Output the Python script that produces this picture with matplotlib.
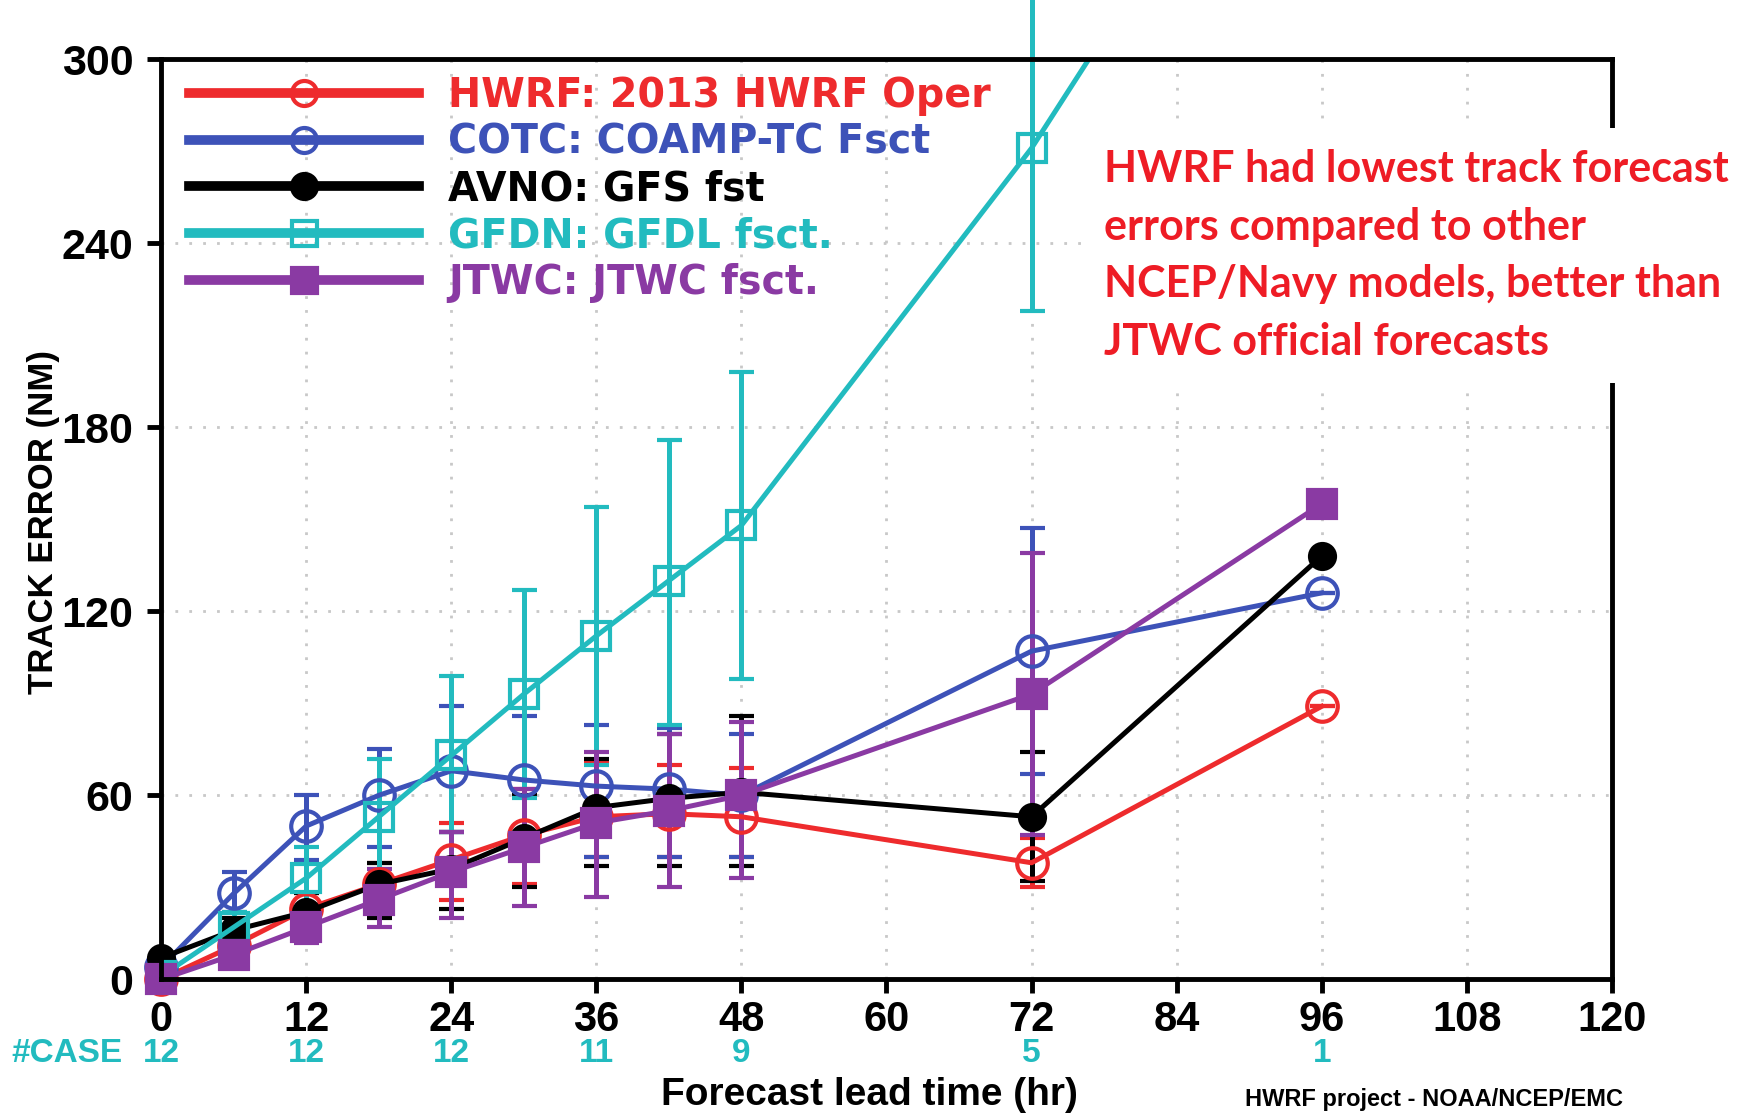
import matplotlib
matplotlib.use('Agg')
import matplotlib.pyplot as plt
import matplotlib.transforms as mtransforms
from matplotlib.lines import Line2D
from matplotlib.patches import Rectangle
import numpy as np

#---------------------------- DATA (NM) ----------------------------
horas = [0, 6, 12, 18, 24, 30, 36, 42, 48, 72, 96]

hwrf    = [0, 11, 23, 31, 39, 47, 53, 54, 53, 38, 89]
hwrf_lo = [0,  8, 18, 24, 26, 31, 40, 40, 40, 30, 89]
hwrf_hi = [0, 14, 28, 38, 51, 62, 71, 70, 69, 46, 89]

cotc    = [4, 28, 50, 60, 68, 65, 63, 62, 60, 107, 126]
cotc_lo = [4, 22, 39, 43, 48, 45, 40, 40, 40, 67, 126]
cotc_hi = [4, 35, 60, 75, 89, 86, 83, 82, 80, 147, 126]

avno    = [7, 16, 22, 31, 36, 46, 56, 59, 61, 53, 138]
avno_lo = [7, 12, 17, 20, 23, 30, 37, 37, 37, 32, 138]
avno_hi = [7, 20, 28, 38, 48, 60, 72, 80, 86, 74, 138]

gfdn    = [1, 17, 33, 53, 73, 93, 112, 130, 148, 271, 418]
gfdn_lo = [1, 12, 23, 36, 48, 59, 70, 83, 98, 218, np.nan]
gfdn_hi = [1, 22, 43, 72, 99, 127, 154, 176, 198, 325, np.nan]

jtwc    = [0, 8, 17, 26, 35, 43, 51, 55, 60, 93, 155]
jtwc_lo = [0, 5, 12, 17, 20, 24, 27, 30, 33, 47, 155]
jtwc_hi = [0, 12, 22, 36, 48, 62, 74, 80, 84, 139, 155]

nomes = ['HWRF: 2013 HWRF Oper', 'COTC: COAMP-TC Fsct', 'AVNO: GFS fst',
         'GFDN: GFDL fsct.', 'JTWC: JTWC fsct.']

case_horas = [0, 12, 24, 36, 48, 72, 96]
case_n = ['12', '12', '12', '11', '9', '5', '1']

nota = ['HWRF had lowest track forecast',
        'errors compared to other',
        'NCEP/Navy models, better than',
        'JTWC official forecasts']

#---------------------------- STYLE ----------------------------
vermelho = '#ee2b2d'
azul = '#3d52b8'
preto = '#000000'
ciano = '#22bbbf'
roxo = '#8a3aa3'

fonte = ['Liberation Sans', 'DejaVu Sans']

# name, mean, low, high, colour, marker, face, size, clip the data line
series = [
    (nomes[0], hwrf, hwrf_lo, hwrf_hi, vermelho, 'o', 'none', 22, False),
    (nomes[1], cotc, cotc_lo, cotc_hi, azul, 'o', 'none', 22, False),
    (nomes[2], avno, avno_lo, avno_hi, preto, 'o', preto, 18, False),
    (nomes[3], gfdn, gfdn_lo, gfdn_hi, ciano, 's', 'none', 20, True),
    (nomes[4], jtwc, jtwc_lo, jtwc_hi, roxo, 's', roxo, 20, False),
]

#---------------------------- FIGURE ----------------------------
fig = plt.figure(figsize=(17.43, 11.14), dpi=100)
ax = fig.add_axes([0.0925, 0.1209, 0.8322, 0.8259])

handles = []
for nome, y, lo, hi, cor, mk, mfc, ms, clip in series:
    y = np.array(y, dtype=float)
    lo = np.array(lo, dtype=float)
    hi = np.array(hi, dtype=float)
    eb = ax.errorbar(horas, y, yerr=[y - lo, hi - y], color=cor, lw=3.6,
                     marker=mk, ms=ms, mfc=mfc, mec=cor, mew=3,
                     elinewidth=3.6, ecolor=cor, capsize=9, capthick=3.6)
    eb.lines[0].set_clip_on(clip)
    for c in eb.lines[1]:
        c.set_clip_on(False)
    for c in eb.lines[2]:
        c.set_clip_on(False)
    handles.append(Line2D([], [], color=cor, lw=7, marker=mk, ms=18,
                          mfc=mfc, mec=cor, mew=3))

ax.set_xlim(0, 120)
ax.set_ylim(0, 300)
ax.set_xticks(np.arange(0, 121, 12))
ax.set_yticks(np.arange(0, 301, 60))
ax.grid(True, linestyle=(0, (1, 4)), color='#c8c8c8', lw=2)
ax.set_axisbelow(True)

for s in ax.spines.values():
    s.set_linewidth(3.5)

ax.tick_params(direction='out', length=10, width=3.5)
ax.tick_params(axis='x', labelsize=30, pad=5)
ax.tick_params(axis='y', labelsize=31, pad=10)
for lab in ax.get_xticklabels() + ax.get_yticklabels():
    lab.set_family(fonte)
    lab.set_fontweight('bold')

ax.set_ylabel('TRACK ERROR (NM)', family=fonte, fontweight='bold', fontsize=25, va='center')
ax.yaxis.set_label_coords(-0.081, 0.497)
ax.set_xlabel('Forecast lead time (hr)', family=fonte, fontweight='bold', fontsize=28, va='center')
ax.xaxis.set_label_coords(0.488, -0.1258)

leg = ax.legend(handles, nomes, loc='upper left', bbox_to_anchor=(0.0193, 0.982),
                frameon=False, borderpad=0, borderaxespad=0, handlelength=5.8,
                handletextpad=0.75, labelspacing=0.17,
                prop={'family': 'DejaVu Sans', 'weight': 'bold', 'size': 28.5},
                labelcolor=[vermelho, azul, preto, ciano, roxo])

# number of cases under the x axis
trans = mtransforms.blended_transform_factory(ax.transData, fig.transFigure)
for h, n in zip(case_horas, case_n):
    ax.text(h, 0.0539, n, transform=trans, ha='center', va='center', color=ciano,
            family=fonte, fontweight='bold', fontsize=24)
fig.text(0.0063, 0.0539, '#CASE', ha='left', va='center', color=ciano,
         family=fonte, fontweight='bold', fontsize=24)

fig.text(0.7143, 0.0126, 'HWRF project - NOAA/NCEP/EMC', ha='left', va='center',
         family=fonte, fontweight='bold', fontsize=17)

# white box with the red note
fig.patches.append(Rectangle((0.6213, 0.6562), 0.3787, 0.2289, transform=fig.transFigure,
                             facecolor='white', edgecolor='none', zorder=10))
for i, linha in enumerate(nota):
    fig.text(0.6334, 0.8483 - i * 0.0517, linha, ha='left', va='center', color='#ee1c25',
             family=['Lato', 'DejaVu Sans'], fontweight='bold', fontsize=31, zorder=11)

plt.savefig('out.png', dpi=100)
